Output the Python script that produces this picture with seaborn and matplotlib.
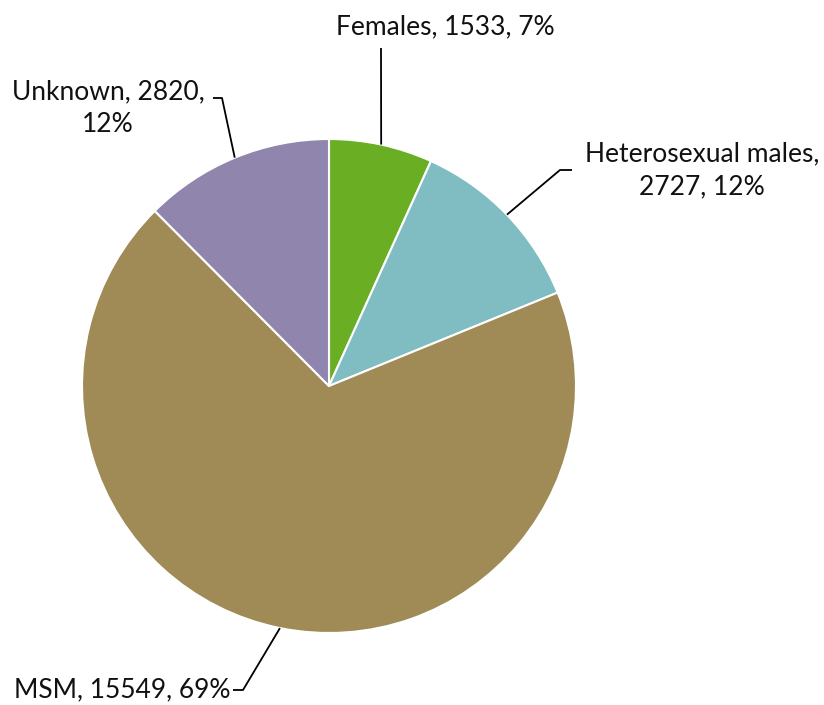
import numpy as np
import matplotlib
matplotlib.use("Agg")
import matplotlib.pyplot as plt
import seaborn as sns

categories = ["Females", "Heterosexual males", "MSM", "Unknown"]
counts = [1533, 2727, 15549, 2820]
percent_labels = ["7%", "12%", "69%", "12%"]
colors = ["#6AAF23", "#7FBDC2", "#A08B56", "#9086AD"]

sns.set_theme(style="white")
plt.rcParams['font.family'] = ['Lato', 'DejaVu Sans']

W, H = 824, 705
fig = plt.figure(figsize=(W / 100, H / 100), dpi=100)
ax = fig.add_axes([0, 0, 1, 1])

cx, cy, R = 329, H - 386, 247
palette = sns.color_palette(colors)
wedges, _ = ax.pie(counts, colors=palette, startangle=90, counterclock=False,
                   center=(cx, cy), radius=R,
                   wedgeprops=dict(edgecolor="white", linewidth=1.5))
ax.set_xlim(0, W)
ax.set_ylim(0, H)
ax.set_aspect("equal")
ax.axis("off")

def P(px, py):
    return px, H - py

def edge(w):
    a = np.deg2rad((w.theta1 + w.theta2) / 2)
    return cx + R * np.cos(a), cy + R * np.sin(a)

texts = [f"{c}, {n}, {p}" for c, n, p in zip(categories, counts, percent_labels)]
fs = 19
# label layout: (text, text pos, ha, elbow points in pixel coords)
layout = [
    (texts[0], (445, 27), "center", [(381, 48)]),
    (f"{categories[1]},\n{counts[1]}, {percent_labels[1]}", (702, 170), "center", [(560, 170), (572, 170)]),
    (texts[2], (14, 690), "left", [(243, 690), (233, 690)]),
    (f"{categories[3]}, {counts[3]},\n{percent_labels[3]}", (108, 108), "center", [(222, 98), (213, 98)]),
]
for w, (txt, tp, ha, elbow) in zip(wedges, layout):
    ex, ey = edge(w)
    xs = [ex] + [P(*e)[0] for e in elbow]
    ys = [ey] + [P(*e)[1] for e in elbow]
    ax.plot(xs, ys, color="black", lw=1.3, solid_capstyle="butt")
    ax.text(*P(*tp), txt, ha=ha, va="center", multialignment="center",
            fontsize=fs, color="#111111", linespacing=1.4)

fig.savefig("out.png", dpi=100, facecolor="white")
